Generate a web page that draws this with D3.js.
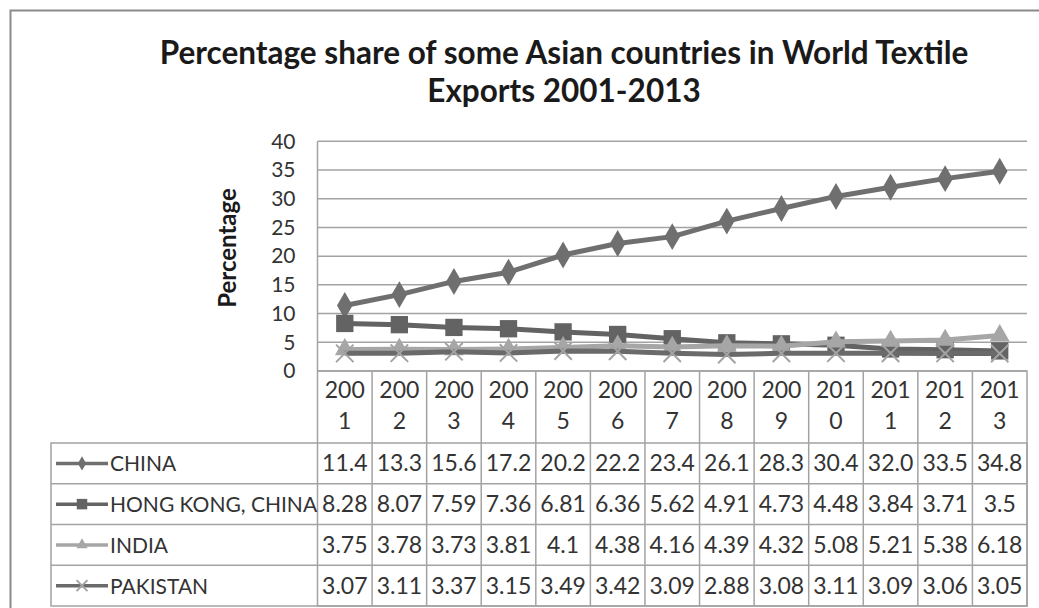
<!DOCTYPE html>
<html>
<head>
<meta charset="utf-8">
<script src="https://cdn.jsdelivr.net/npm/d3@7"></script>
<style>
  body { margin: 0; background: #fff; }
  svg { display: block; font-family: Lato, "Open Sans", sans-serif; }
</style>
</head>
<body>
<svg id="chart" width="1039" height="608"></svg>
<script>
const years = ['2001', '2002', '2003', '2004', '2005', '2006', '2007', '2008', '2009', '2010', '2011', '2012', '2013'];
const yTicks = [0, 5, 10, 15, 20, 25, 30, 35, 40];

const china = [11.4, 13.3, 15.6, 17.2, 20.2, 22.2, 23.4, 26.1, 28.3, 30.4, 32.0, 33.5, 34.8];
const hongKong = [8.28, 8.07, 7.59, 7.36, 6.81, 6.36, 5.62, 4.91, 4.73, 4.48, 3.84, 3.71, 3.5];
const india = [3.75, 3.78, 3.73, 3.81, 4.1, 4.38, 4.16, 4.39, 4.32, 5.08, 5.21, 5.38, 6.18];
const pakistan = [3.07, 3.11, 3.37, 3.15, 3.49, 3.42, 3.09, 2.88, 3.08, 3.11, 3.09, 3.06, 3.05];

// table labels as printed in the data table
const chinaLabels = ['11.4', '13.3', '15.6', '17.2', '20.2', '22.2', '23.4', '26.1', '28.3', '30.4', '32.0', '33.5', '34.8'];

const series = [
  { name: 'CHINA', values: china, labels: chinaLabels, line: '#6f6f6f', fill: '#6f6f6f', marker: 'diamond' },
  { name: 'HONG KONG, CHINA', values: hongKong, line: '#636363', fill: '#636363', marker: 'square' },
  { name: 'INDIA', values: india, line: '#a6a6a6', fill: '#a6a6a6', marker: 'triangle' },
  { name: 'PAKISTAN', values: pakistan, line: '#6a6a6a', fill: '#a3a3a3', marker: 'cross' },
];

const svg = d3.select('#chart');
const plot = { left: 317.5, right: 1027, top: 141.3, bottom: 371 };
const tableLeft = 51;
const headerBottom = 443;
const rowH = 40.75;
const gridColor = '#a3a3a3';

// outer frame
svg.append('rect')
  .attr('x', 10.5).attr('y', 10.5)
  .attr('width', 1060).attr('height', 640)
  .attr('fill', 'none')
  .attr('stroke', '#8a8a8a')
  .attr('stroke-width', 2);

// title
const title = svg.append('text')
  .attr('text-anchor', 'middle')
  .style('font-weight', 'bold')
  .style('font-size', '31.5px')
  .attr('fill', '#1a1a1a');
title.append('tspan').attr('x', 564).attr('y', 64)
  .text('Percentage share of some Asian countries in World Textile');
title.append('tspan').attr('x', 564).attr('y', 102)
  .text('Exports 2001-2013');

const x = d3.scaleBand().domain(years).range([plot.left, plot.right]);
const y = d3.scaleLinear().domain([0, 40]).range([plot.bottom, plot.top]);

// gridlines
svg.append('g')
  .selectAll('line')
  .data(yTicks)
  .join('line')
  .attr('x1', plot.left).attr('x2', plot.right)
  .attr('y1', (d) => y(d)).attr('y2', (d) => y(d))
  .attr('stroke', gridColor)
  .attr('stroke-width', 1.5);

svg.append('line')
  .attr('x1', plot.left).attr('x2', plot.left)
  .attr('y1', plot.top).attr('y2', plot.bottom)
  .attr('stroke', gridColor).attr('stroke-width', 1.5);

// y axis labels
const yAxis = svg.append('g')
  .attr('transform', `translate(${plot.left - 22},0)`)
  .call(d3.axisLeft(y).tickValues(yTicks).tickSize(0).tickPadding(0));
yAxis.select('.domain').remove();
yAxis.selectAll('text')
  .style('font-family', 'Lato, sans-serif')
  .style('font-size', '21px')
  .attr('fill', '#333');

svg.append('text')
  .attr('transform', 'translate(236,248) rotate(-90)')
  .attr('text-anchor', 'middle')
  .style('font-weight', 'bold')
  .style('font-size', '24px')
  .attr('fill', '#1a1a1a')
  .text('Percentage');

// data table
const table = svg.append('g');
const tableBottom = headerBottom + rowH * series.length;

table.append('rect')
  .attr('x', plot.left).attr('y', plot.bottom)
  .attr('width', plot.right - plot.left).attr('height', tableBottom - plot.bottom)
  .attr('fill', 'none').attr('stroke', gridColor).attr('stroke-width', 1.5);
table.append('rect')
  .attr('x', tableLeft).attr('y', headerBottom)
  .attr('width', plot.right - tableLeft).attr('height', tableBottom - headerBottom)
  .attr('fill', 'none').attr('stroke', gridColor).attr('stroke-width', 1.5);

table.selectAll('line.col')
  .data(years.slice(1))
  .join('line')
  .attr('class', 'col')
  .attr('x1', (d) => x(d)).attr('x2', (d) => x(d))
  .attr('y1', plot.bottom).attr('y2', tableBottom)
  .attr('stroke', gridColor).attr('stroke-width', 1.5);

table.selectAll('line.row')
  .data(series.slice(1))
  .join('line')
  .attr('class', 'row')
  .attr('x1', tableLeft).attr('x2', plot.right)
  .attr('y1', (d, i) => headerBottom + rowH * (i + 1))
  .attr('y2', (d, i) => headerBottom + rowH * (i + 1))
  .attr('stroke', gridColor).attr('stroke-width', 1.5);

// header year labels, wrapped like the original
const head = table.selectAll('text.year')
  .data(years)
  .join('text')
  .attr('class', 'year')
  .attr('text-anchor', 'middle')
  .style('font-size', '23px')
  .attr('fill', '#333');
head.append('tspan')
  .attr('x', (d) => x(d) + x.bandwidth() / 2)
  .attr('y', 398)
  .text((d) => d.slice(0, 3));
head.append('tspan')
  .attr('x', (d) => x(d) + x.bandwidth() / 2)
  .attr('y', 429)
  .text((d) => d.slice(3));

// marker shapes
const symbolOf = {
  diamond: d3.symbol(d3.symbolDiamond, 210),
  square: d3.symbol(d3.symbolSquare, 300),
  triangle: d3.symbol(d3.symbolTriangle, 170),
  cross: d3.symbol(d3.symbolX, 200),
};
const legendSymbol = {
  diamond: d3.symbol(d3.symbolDiamond, 60),
  square: d3.symbol(d3.symbolSquare, 110),
  triangle: d3.symbol(d3.symbolTriangle, 55),
  cross: d3.symbol(d3.symbolX, 80),
};

function drawMarker(sel, s, gen) {
  sel.attr('d', gen);
  if (s.marker === 'cross') {
    sel.attr('fill', 'none').attr('stroke', s.fill).attr('stroke-width', 2);
  } else {
    sel.attr('fill', s.fill).attr('stroke', 'none');
  }
}

series.forEach((s, si) => {
  const rowTop = headerBottom + rowH * si;
  const cy = rowTop + rowH / 2;

  // legend key
  table.append('line')
    .attr('x1', 56).attr('x2', 108)
    .attr('y1', cy).attr('y2', cy)
    .attr('stroke', s.line).attr('stroke-width', 3.5);
  table.append('path')
    .attr('transform', `translate(82,${cy})`)
    .call(drawMarker, s, legendSymbol[s.marker]);
  table.append('text')
    .attr('x', 110).attr('y', cy + 8)
    .style('font-size', '21px')
    .attr('fill', '#333')
    .text(s.name);

  // values
  table.selectAll(null)
    .data(s.values)
    .join('text')
    .attr('x', (d, i) => x(years[i]) + x.bandwidth() / 2)
    .attr('y', cy + 8)
    .attr('text-anchor', 'middle')
    .style('font-size', '23px')
    .attr('fill', '#333')
    .text((d, i) => (s.labels ? s.labels[i] : String(d)));
});

// lines
const line = d3.line()
  .x((d, i) => x(years[i]) + x.bandwidth() / 2)
  .y((d) => y(d));

series.forEach((s) => {
  const g = svg.append('g');
  g.append('path')
    .datum(s.values)
    .attr('d', line)
    .attr('fill', 'none')
    .attr('stroke', s.line)
    .attr('stroke-width', 5)
    .attr('stroke-linejoin', 'round');
  g.selectAll('path.mk')
    .data(s.values)
    .join('path')
    .attr('class', 'mk')
    .attr('transform', (d, i) => `translate(${x(years[i]) + x.bandwidth() / 2},${y(d)})`)
    .call(drawMarker, s, symbolOf[s.marker]);
});
</script>
</body>
</html>
